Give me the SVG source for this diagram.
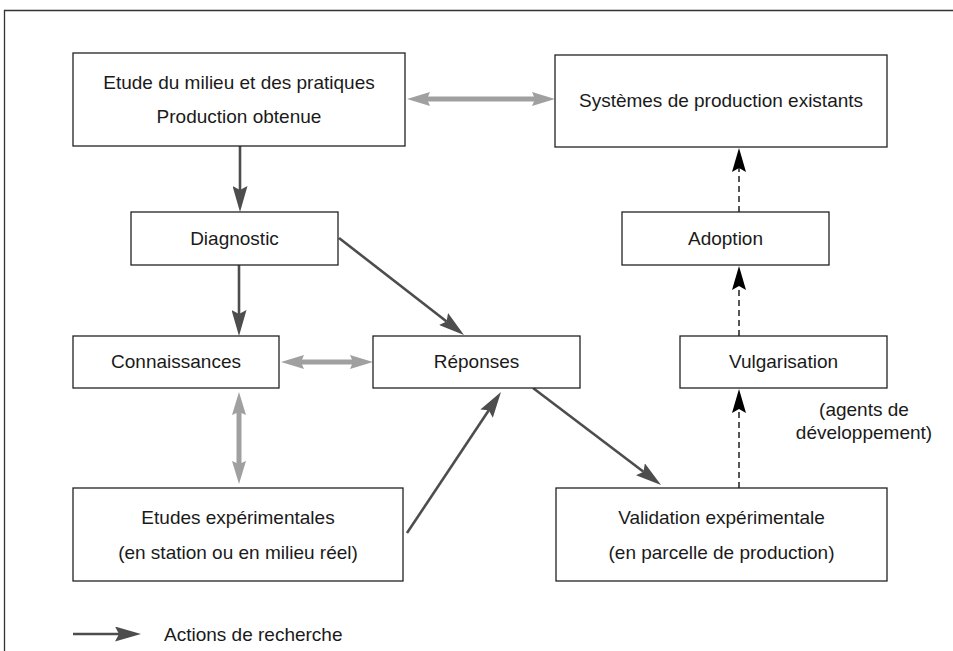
<svg xmlns="http://www.w3.org/2000/svg" width="953" height="651" viewBox="0 0 953 651">
<style>
.box{fill:#fff;stroke:#222;stroke-width:1.3}
.t{font-family:"Liberation Sans",Arial,sans-serif;font-size:19px;fill:#1a1a1a;text-anchor:middle}
.dark{stroke:#4d4d4d;stroke-width:2.6;fill:none}
.gray{stroke:#a0a0a0;stroke-width:5;fill:none}
.dash{stroke:#444;stroke-width:1.8;fill:none;stroke-dasharray:6 4}
</style>
<defs>
<marker id="ad" viewBox="0 0 26 15" refX="4" refY="7.5" markerWidth="26" markerHeight="15" orient="auto" markerUnits="userSpaceOnUse">
<path d="M0,0 L26,7.5 L0,15 L4,7.5 z" fill="#4d4d4d"/>
</marker>
<marker id="ag" viewBox="0 0 23 14" refX="3" refY="7" markerWidth="23" markerHeight="14" orient="auto-start-reverse" markerUnits="userSpaceOnUse">
<path d="M0,0 L23,7 L0,14 L3,7 z" fill="#a0a0a0"/>
</marker>
<marker id="ab" viewBox="0 0 24 14" refX="4" refY="7" markerWidth="24" markerHeight="14" orient="auto" markerUnits="userSpaceOnUse">
<path d="M0,0 L24,7 L0,14 L4,7 z" fill="#000"/>
</marker>
</defs>
<path d="M4.5,651 V10.5 H953" fill="none" stroke="#333" stroke-width="1.3"/>
<g id="connectors">
<line class="gray" x1="427" y1="99" x2="535" y2="99" marker-start="url(#ag)" marker-end="url(#ag)"/>
<line class="dark" x1="240" y1="146" x2="240" y2="190" marker-end="url(#ad)"/>
<line class="dark" x1="239" y1="265" x2="239" y2="314" marker-end="url(#ad)"/>
<line class="dark" x1="339" y1="238" x2="446.6" y2="321.5" marker-end="url(#ad)"/>
<line class="gray" x1="301" y1="362" x2="353" y2="362" marker-start="url(#ag)" marker-end="url(#ag)"/>
<line class="gray" x1="239" y1="412" x2="239" y2="464" marker-start="url(#ag)" marker-end="url(#ag)"/>
<line class="dark" x1="407" y1="533" x2="488.8" y2="410.3" marker-end="url(#ad)"/>
<line class="dark" x1="533" y1="388" x2="643.5" y2="471.7" marker-end="url(#ad)"/>
<line class="dash" x1="739" y1="488" x2="739" y2="409" marker-end="url(#ab)"/>
<line class="dash" x1="739" y1="336" x2="739" y2="286" marker-end="url(#ab)"/>
<line class="dash" x1="739" y1="212" x2="739" y2="168" marker-end="url(#ab)"/>
<line class="dark" x1="73" y1="634" x2="119" y2="634" marker-end="url(#ad)"/>
</g>
<g id="etude">
<rect class="box" x="73" y="53" width="332" height="93"/>
<text class="t" x="239" y="89">Etude du milieu et des pratiques</text>
<text class="t" x="239" y="123">Production obtenue</text>
</g>
<g id="systemes">
<rect class="box" x="555" y="55" width="332" height="92"/>
<text class="t" x="721" y="106.5">Systèmes de production existants</text>
</g>
<g id="diagnostic">
<rect class="box" x="131" y="212" width="207" height="53"/>
<text class="t" x="234.5" y="245">Diagnostic</text>
</g>
<g id="adoption">
<rect class="box" x="622" y="212" width="207" height="53"/>
<text class="t" x="725.5" y="245">Adoption</text>
</g>
<g id="connaissances">
<rect class="box" x="73" y="336" width="206" height="52"/>
<text class="t" x="176" y="368">Connaissances</text>
</g>
<g id="reponses">
<rect class="box" x="373" y="336" width="207" height="52"/>
<text class="t" x="476.5" y="368">Réponses</text>
</g>
<g id="vulgarisation">
<rect class="box" x="680" y="336" width="207" height="52"/>
<text class="t" x="783.5" y="368">Vulgarisation</text>
</g>
<g id="agents">
<text class="t" x="864" y="416">(agents de</text>
<text class="t" x="864" y="438.5">développement)</text>
</g>
<g id="etudes-exp">
<rect class="box" x="73" y="488" width="330" height="93"/>
<text class="t" x="238" y="523.5">Etudes expérimentales</text>
<text class="t" x="238" y="558.5">(en station ou en milieu réel)</text>
</g>
<g id="validation">
<rect class="box" x="556" y="488" width="331" height="93"/>
<text class="t" x="721.5" y="524">Validation expérimentale</text>
<text class="t" x="721.5" y="559">(en parcelle de production)</text>
</g>
<g id="legend">
<text class="t" x="164" y="641" style="text-anchor:start">Actions de recherche</text>
</g>
</svg>
